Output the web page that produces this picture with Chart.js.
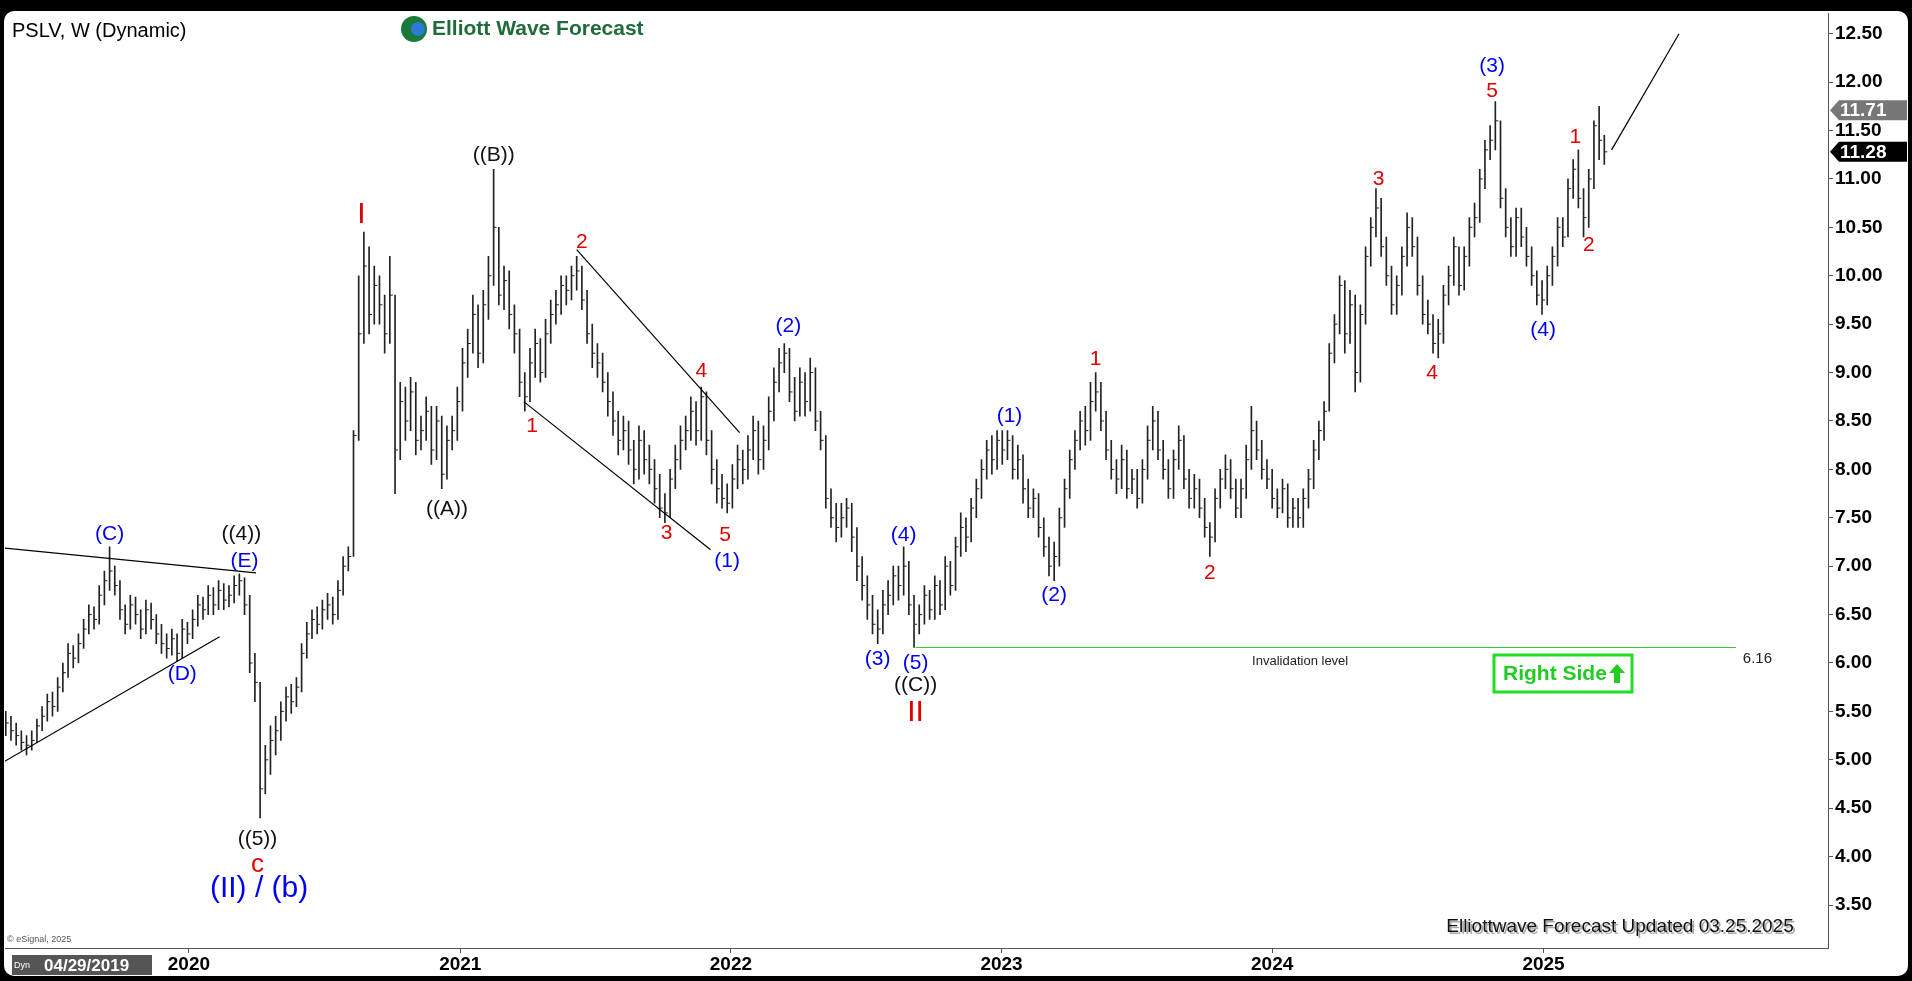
<!DOCTYPE html>
<html>
<head>
<meta charset="utf-8">
<script src="https://cdn.jsdelivr.net/npm/chart.js@4"></script>
<style>
  html, body { margin: 0; padding: 0; background: #000; }
  #wrap { width: 1912px; height: 981px; }
</style>
</head>
<body>
<div id="wrap"><canvas id="chart"></canvas></div>
<script>
// PSLV weekly bars, first bar week of 04/29/2019
const highs = [
  5.50,5.45,5.38,5.30,5.25,5.30,5.42,5.55,5.68,5.70,
  5.85,6.00,6.20,6.18,6.30,6.45,6.60,6.58,6.80,6.95,
  7.20,7.00,6.85,6.60,6.70,6.68,6.55,6.65,6.62,6.50,
  6.40,6.30,6.35,6.30,6.45,6.42,6.55,6.70,6.68,6.80,
  6.78,6.85,6.82,6.80,6.90,6.92,6.88,6.70,6.10,5.80,
  5.15,5.35,5.45,5.60,5.75,5.78,5.85,6.20,6.42,6.55,
  6.58,6.65,6.72,6.68,6.85,7.10,7.20,8.40,10.00,10.45,
  10.30,10.10,10.00,9.80,10.20,9.80,8.90,8.85,8.95,8.90,
  8.55,8.75,8.65,8.65,8.55,8.45,8.55,8.85,9.25,9.45,
  9.80,9.70,9.85,10.20,11.10,10.50,10.10,10.05,9.70,9.45,
  9.00,9.25,9.45,9.35,9.55,9.75,9.85,10.00,10.00,10.10,
  10.20,10.10,9.85,9.50,9.30,9.20,9.00,8.80,8.60,8.55,
  8.50,8.30,8.45,8.40,8.25,8.10,7.95,7.75,8.00,8.25,
  8.45,8.55,8.75,8.70,8.85,8.80,8.40,8.10,7.95,7.85,
  8.05,8.25,8.20,8.35,8.55,8.50,8.45,8.75,9.05,9.25,
  9.30,9.25,8.95,9.05,9.00,9.15,9.05,8.60,8.35,7.80,
  7.65,7.65,7.70,7.65,7.40,7.10,6.90,6.70,6.55,6.75,
  6.85,7.00,7.00,7.20,7.05,6.70,6.60,6.80,6.75,6.90,
  6.85,7.10,7.05,7.30,7.55,7.50,7.70,7.90,8.10,8.30,
  8.35,8.40,8.40,8.40,8.35,8.25,8.15,7.90,7.80,7.75,
  7.50,7.30,7.25,7.60,7.90,8.20,8.40,8.60,8.65,8.90,
  9.00,8.90,8.60,8.30,8.10,8.25,8.20,8.00,8.00,8.10,
  8.45,8.65,8.60,8.30,8.10,8.20,8.45,8.35,8.00,7.95,
  7.90,7.70,7.45,7.80,8.00,8.15,8.10,7.90,7.90,8.25,
  8.65,8.50,8.30,8.10,8.00,7.80,7.90,7.85,7.70,7.70,
  7.80,8.00,8.30,8.50,8.70,9.30,9.60,10.00,9.95,9.85,
  9.80,9.70,10.30,10.60,10.90,10.80,10.40,10.10,10.00,10.30,
  10.65,10.60,10.40,10.00,9.75,9.60,9.55,9.90,10.10,10.40,
  10.30,10.30,10.60,10.75,11.10,11.40,11.55,11.80,11.60,10.90,
  10.60,10.70,10.70,10.50,10.30,10.05,9.95,10.10,10.30,10.60,
  10.60,11.00,11.20,11.30,10.90,11.10,11.60,11.75,11.45
];
const lows = [
  5.25,5.20,5.15,5.10,5.05,5.10,5.18,5.30,5.40,5.45,
  5.50,5.70,5.85,5.95,6.00,6.15,6.30,6.35,6.40,6.60,
  6.75,6.70,6.45,6.30,6.35,6.40,6.25,6.30,6.35,6.20,
  6.10,6.05,6.08,6.02,6.05,6.20,6.25,6.38,6.45,6.50,
  6.50,6.55,6.55,6.58,6.62,6.70,6.50,5.90,5.60,4.40,
  4.65,4.85,5.05,5.20,5.40,5.48,5.55,5.70,6.05,6.25,
  6.30,6.35,6.45,6.40,6.45,6.70,6.95,7.10,8.30,9.30,
  9.40,9.50,9.50,9.20,9.30,7.75,8.10,8.30,8.40,8.15,
  8.20,8.30,8.05,8.10,7.80,7.90,8.20,8.30,8.60,8.95,
  9.20,9.05,9.10,9.55,9.90,9.70,9.65,9.45,9.20,8.75,
  8.60,8.70,8.95,8.90,8.95,9.30,9.50,9.60,9.70,9.75,
  9.85,9.65,9.30,9.05,8.95,8.80,8.55,8.35,8.15,8.20,
  8.05,7.85,7.90,7.95,7.85,7.65,7.50,7.45,7.50,7.80,
  8.00,8.20,8.30,8.25,8.30,8.15,7.85,7.65,7.60,7.55,
  7.60,7.80,7.85,7.90,8.10,7.95,8.00,8.20,8.50,8.80,
  9.00,8.70,8.50,8.55,8.55,8.60,8.40,8.20,7.60,7.40,
  7.25,7.30,7.40,7.15,6.85,6.65,6.45,6.30,6.20,6.30,
  6.50,6.60,6.65,6.70,6.50,6.16,6.30,6.40,6.45,6.45,
  6.50,6.55,6.70,6.75,7.10,7.15,7.25,7.50,7.70,7.90,
  7.95,8.00,8.05,8.10,7.90,7.90,7.65,7.50,7.50,7.30,
  7.10,6.90,6.85,7.00,7.40,7.70,8.00,8.20,8.25,8.30,
  8.60,8.40,8.10,7.90,7.75,7.80,7.70,7.75,7.60,7.65,
  7.90,8.20,8.10,7.90,7.70,7.70,8.00,7.80,7.60,7.60,
  7.50,7.30,7.10,7.25,7.60,7.80,7.70,7.50,7.50,7.70,
  8.00,8.10,7.90,7.80,7.60,7.50,7.55,7.40,7.40,7.40,
  7.40,7.60,7.80,8.10,8.30,8.60,9.10,9.40,9.20,9.30,
  8.80,8.90,9.50,10.10,10.40,10.20,9.90,9.60,9.60,9.80,
  10.10,10.20,9.80,9.50,9.40,9.20,9.15,9.30,9.70,9.90,
  9.80,9.85,10.10,10.40,10.55,10.90,11.20,11.30,10.70,10.40,
  10.20,10.20,10.30,10.10,9.90,9.70,9.60,9.70,9.90,10.10,
  10.30,10.40,10.80,10.70,10.40,10.50,10.90,11.20,11.15
];
const closes = [
  5.38,5.30,5.25,5.18,5.15,5.20,5.35,5.45,5.60,5.55,
  5.75,5.90,6.10,6.05,6.20,6.35,6.50,6.45,6.70,6.85,
  6.95,6.80,6.55,6.40,6.60,6.50,6.35,6.55,6.45,6.30,
  6.20,6.15,6.25,6.10,6.35,6.30,6.45,6.60,6.55,6.70,
  6.60,6.75,6.65,6.70,6.80,6.85,6.60,6.00,5.80,4.70,
  5.00,5.20,5.30,5.50,5.65,5.60,5.75,6.10,6.30,6.45,
  6.40,6.55,6.60,6.50,6.75,7.00,7.10,8.35,9.40,10.10,
  9.60,9.90,9.70,9.40,9.80,8.20,8.70,8.50,8.80,8.30,
  8.40,8.60,8.20,8.50,7.95,8.30,8.40,8.70,9.10,9.30,
  9.60,9.20,9.70,10.00,10.50,9.80,9.95,9.60,9.40,8.90,
  8.75,9.10,9.30,9.00,9.40,9.60,9.70,9.90,9.85,10.00,
  10.05,9.75,9.40,9.20,9.10,8.90,8.70,8.50,8.30,8.40,
  8.20,8.00,8.30,8.10,8.00,7.80,7.60,7.55,7.90,8.10,
  8.30,8.40,8.60,8.40,8.75,8.30,8.00,7.80,7.70,7.65,
  7.90,8.10,8.00,8.20,8.40,8.10,8.30,8.60,8.90,9.10,
  9.20,8.80,8.60,8.90,8.70,9.00,8.50,8.30,7.70,7.50,
  7.40,7.50,7.60,7.30,7.00,6.80,6.60,6.40,6.35,6.60,
  6.70,6.90,6.80,7.00,6.60,6.40,6.50,6.70,6.55,6.80,
  6.60,7.00,6.80,7.20,7.40,7.30,7.60,7.80,8.00,8.20,
  8.10,8.30,8.20,8.30,8.00,8.10,7.80,7.60,7.70,7.40,
  7.20,7.00,7.10,7.50,7.80,8.10,8.30,8.50,8.40,8.70,
  8.80,8.50,8.20,8.00,7.90,8.10,7.80,7.90,7.70,8.00,
  8.30,8.50,8.20,8.00,7.80,8.10,8.30,7.90,7.70,7.80,
  7.60,7.40,7.30,7.70,7.90,8.00,7.80,7.60,7.80,8.10,
  8.40,8.20,8.00,7.90,7.70,7.60,7.80,7.50,7.60,7.50,
  7.70,7.90,8.20,8.40,8.60,9.20,9.50,9.90,9.40,9.70,
  9.00,9.60,10.20,10.50,10.70,10.30,10.00,9.70,9.90,10.20,
  10.50,10.30,9.90,9.60,9.50,9.30,9.40,9.80,10.00,10.30,
  9.90,10.20,10.50,10.60,11.00,11.30,11.40,11.60,10.80,10.50,
  10.30,10.60,10.40,10.20,10.00,9.80,9.75,10.00,10.20,10.50,
  10.40,10.90,11.10,10.80,10.60,11.00,11.55,11.40,11.28
];

// x axis: weeks since 04/29/2019
const yearLabels = ["2020", "2021", "2022", "2023", "2024", "2025"];
const yearWeeks = [35.29, 87.57, 139.71, 191.86, 244.0, 296.29];
const priceTicks = [3.5,4,4.5,5,5.5,6,6.5,7,7.5,8,8.5,9,9.5,10,10.5,11,11.5,12,12.5];

const invalidation = 6.16;
const lastClose = 11.28;
const lastHigh = 11.71;

// wave labels: [week, price, text, colour, size]
const BLUE = "#0000ee", RED = "#e00000", BLK = "#111";
const waveLabels = [
  [20, 7.33, "(C)", BLUE, 21], [45.4, 7.33, "((4))", BLK, 21], [46, 7.05, "(E)", BLUE, 21],
  [34, 5.88, "(D)", BLUE, 21], [48.5, 4.18, "((5))", BLK, 21], [48.5, 3.92, "c", RED, 26],
  [48.8, 3.67, "(II) / (b)", BLUE, 30], [68.5, 10.63, "I", RED, 30],
  [94, 11.25, "((B))", BLK, 21], [85, 7.59, "((A))", BLK, 21],
  [111, 10.35, "2", RED, 21], [101.4, 8.45, "1", RED, 21], [127.3, 7.34, "3", RED, 21],
  [134, 9.01, "4", RED, 21], [138.6, 7.32, "5", RED, 21], [139, 7.05, "(1)", BLUE, 21],
  [150.8, 9.48, "(2)", BLUE, 21], [168, 6.04, "(3)", BLUE, 21], [173, 7.32, "(4)", BLUE, 21],
  [175.3, 6.0, "(5)", BLUE, 21], [175.3, 5.77, "((C))", BLK, 21], [175.3, 5.49, "II", RED, 30],
  [193.4, 8.55, "(1)", BLUE, 21], [202, 6.7, "(2)", BLUE, 21], [210, 9.14, "1", RED, 21],
  [232, 6.93, "2", RED, 21], [264.5, 11.0, "3", RED, 21], [274.8, 8.99, "4", RED, 21],
  [286.4, 12.16, "(3)", BLUE, 21], [286.4, 11.91, "5", RED, 21], [296.2, 9.44, "(4)", BLUE, 21],
  [302.4, 11.43, "1", RED, 21], [305, 10.32, "2", RED, 21]
];
// trend lines: [w1, p1, w2, p2]
const trendLines = [
  [-1, 7.19, 48.2, 6.93], [-1, 4.96, 41.2, 6.27],
  [110, 10.27, 141.4, 8.38], [99.8, 8.7, 135.8, 7.17],
  [309.4, 11.3, 322.4, 12.5]
];

const overlay = {
  id: "overlay",
  beforeDraw(chart) {
    const c = chart.ctx;
    c.save();
    c.fillStyle = "#000";
    c.fillRect(0, 0, chart.width, chart.height);
    c.fillStyle = "#fff";
    c.beginPath();
    c.roundRect(4, 11, chart.width - 8, chart.height - 16, 10);
    c.fill();
    c.restore();
  },
  afterDatasetsDraw(chart) {
    const c = chart.ctx, xs = chart.scales.x, ys = chart.scales.y;
    const X = v => xs.getPixelForValue(v), Y = v => ys.getPixelForValue(v);
    const a = chart.chartArea;
    c.save();
    c.beginPath();
    c.rect(a.left, a.top, a.right - a.left, a.bottom - a.top);
    c.clip();
    // close ticks
    c.strokeStyle = "#222";
    c.lineWidth = 1;
    closes.forEach((v, i) => {
      c.beginPath();
      c.moveTo(X(i), Y(v));
      c.lineTo(X(i) + 3, Y(v));
      c.stroke();
    });
    // trend lines
    c.strokeStyle = "#000";
    c.lineWidth = 1.2;
    trendLines.forEach(l => {
      c.beginPath();
      c.moveTo(X(l[0]), Y(l[1]));
      c.lineTo(X(l[2]), Y(l[3]));
      c.stroke();
    });
    // invalidation
    c.strokeStyle = "#33cc33";
    c.beginPath();
    c.moveTo(X(175.3), Y(invalidation));
    c.lineTo(X(333.4), Y(invalidation));
    c.stroke();
    c.fillStyle = "#222";
    c.textAlign = "center";
    c.textBaseline = "middle";
    c.font = "13px 'Liberation Sans'";
    c.fillText("Invalidation level", X(249.4), Y(6.02));
    c.font = "15px 'Liberation Sans'";
    c.fillText("6.16", X(337.5), Y(6.04));
    // wave labels
    waveLabels.forEach(w => {
      c.fillStyle = w[3];
      c.font = w[4] + "px 'Liberation Sans'";
      c.fillText(w[2], X(w[0]), Y(w[1]));
    });
    c.restore();
    c.save();
    c.textBaseline = "middle";
    // Right Side box
    c.strokeStyle = "#22dd22";
    c.lineWidth = 3;
    c.strokeRect(1494, 655, 138, 37);
    c.fillStyle = "#22cc22";
    c.font = "bold 21px 'Liberation Sans'";
    c.textAlign = "left";
    c.fillText("Right Side", 1503, 674);
    c.beginPath();
    c.moveTo(1617, 664); c.lineTo(1625, 673); c.lineTo(1620, 673); c.lineTo(1620, 683);
    c.lineTo(1614, 683); c.lineTo(1614, 673); c.lineTo(1609, 673); c.closePath();
    c.fill();
    // title + logo
    c.fillStyle = "#000";
    c.font = "20px 'Liberation Sans'";
    c.fillText("PSLV, W (Dynamic)", 12, 31);
    c.fillStyle = "#1a7a3a";
    c.beginPath(); c.arc(414, 29, 13, 0, Math.PI * 2); c.fill();
    c.fillStyle = "#2b7bd6";
    c.beginPath(); c.arc(418, 29, 7, 0, Math.PI * 2); c.fill();
    c.fillStyle = "#1f6b3a";
    c.font = "bold 21px 'Liberation Sans'";
    c.fillText("Elliott Wave Forecast", 432, 29);
    // footer
    c.font = "19px 'Liberation Sans'";
    c.textAlign = "center";
    c.fillStyle = "#aaa";
    c.fillText("Elliottwave Forecast Updated 03.25.2025", 1622, 929);
    c.fillStyle = "#111";
    c.fillText("Elliottwave Forecast Updated 03.25.2025", 1620, 927);
    c.textAlign = "left";
    c.font = "9px 'Liberation Sans'";
    c.fillStyle = "#555";
    c.fillText("© eSignal, 2025", 7, 940);
    // price badges
    const badge = (v, col) => {
      const y = Y(v), x0 = a.right + 2;
      c.fillStyle = col;
      c.beginPath();
      c.moveTo(x0, y); c.lineTo(x0 + 9, y - 10); c.lineTo(1907, y - 10);
      c.lineTo(1907, y + 10); c.lineTo(x0 + 9, y + 10); c.closePath(); c.fill();
      c.fillStyle = "#fff";
      c.font = "bold 19px 'Liberation Sans'";
      c.fillText(v.toFixed(2), x0 + 10, y + 1);
    };
    badge(lastHigh, "#777");
    badge(lastClose, "#000");
    // start date badge
    c.fillStyle = "#555";
    c.fillRect(12, 955, 140, 20);
    c.fillStyle = "#fff";
    c.font = "bold 17px 'Liberation Sans'";
    c.fillText("04/29/2019", 44, 966);
    c.font = "9px 'Liberation Sans'";
    c.fillText("Dyn", 14, 966);
    c.restore();
  }
};

new Chart(document.getElementById("chart"), {
  type: "bar",
  data: {
    datasets: [{
      data: lows.map((l, i) => ({ x: i, y: [l, highs[i]] })),
      backgroundColor: "#222",
      barThickness: 1,
      grouped: false
    }]
  },
  options: {
    responsive: true,
    maintainAspectRatio: false,
    animation: false,
    layout: { padding: { left: 5, top: 12, right: 5, bottom: 6 } },
    plugins: { legend: { display: false }, tooltip: { enabled: false } },
    scales: {
      x: {
        type: "linear",
        offset: false,
        min: -0.15,
        max: 351.1,
        afterFit: s => { s.height = 27; },
        afterBuildTicks: s => { s.ticks = yearWeeks.map(v => ({ value: v })); },
        ticks: {
          autoSkip: false, maxRotation: 0, padding: 0,
          color: "#000", font: { family: "Liberation Sans", size: 19, weight: "bold" },
          callback: (v, i) => yearLabels[i]
        },
        grid: { drawOnChartArea: false, offset: false, tickLength: 5, color: "#555" },
        border: { color: "#555" }
      },
      y: {
        position: "right",
        min: 3.056,
        max: 12.71,
        afterFit: s => { s.width = 79; },
        afterBuildTicks: s => { s.ticks = priceTicks.map(v => ({ value: v })); },
        ticks: {
          padding: 2,
          color: "#000", font: { family: "Liberation Sans", size: 19, weight: "bold" },
          callback: v => v.toFixed(2)
        },
        grid: { drawOnChartArea: false, tickLength: 5, color: "#555" },
        border: { color: "#555" }
      }
    }
  },
  plugins: [overlay]
});
</script>
</body>
</html>
